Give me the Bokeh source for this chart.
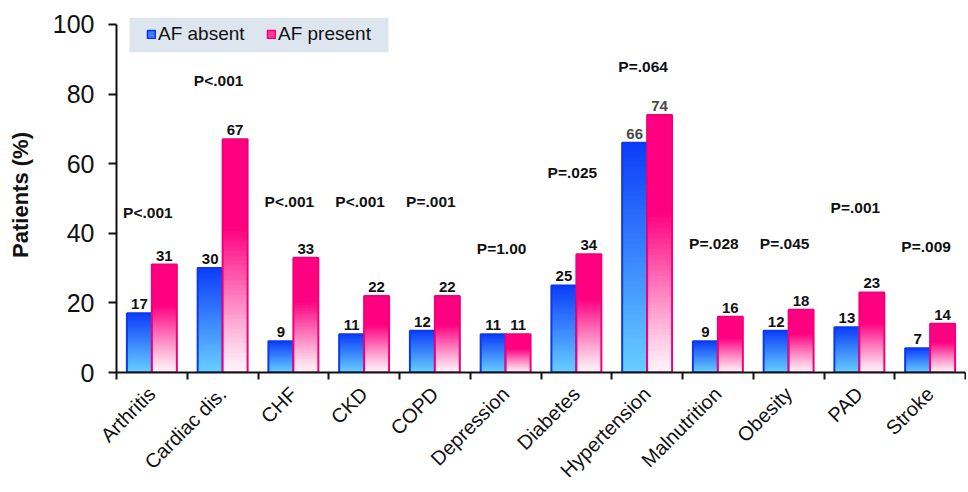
import math
from bokeh.plotting import figure
from bokeh.models import (ColumnDataSource, Range1d, FixedTicker, Legend, LegendItem,
                          CustomJSTickFormatter, BoxAnnotation)
from bokeh.core.properties import value
from bokeh.embed import file_html
from bokeh.resources import INLINE

# ---------------- data ----------------
categories = ["Arthritis", "Cardiac dis.", "CHF", "CKD", "COPD", "Depression",
              "Diabetes", "Hypertension", "Malnutrition", "Obesity", "PAD", "Stroke"]
af_absent = [17, 30, 9, 11, 12, 11, 25, 66, 9, 12, 13, 7]
af_present = [31, 67, 33, 22, 22, 11, 34, 74, 16, 18, 23, 14]
p_values = ["P<.001", "P<.001", "P<.001", "P<.001", "P=.001", "P=1.00",
            "P=.025", "P=.064", "P=.028", "P=.045", "P=.001", "P=.009"]
y_ticks = [0, 20, 40, 60, 80, 100]

# ---------------- layout (annotation heights, in axis units) ----------------
p_label_y = [46, 84, 49, 49, 49, 35.7, 57.4, 88, 37, 37, 47.4, 36.3]

FONT = "Liberation Sans"
BAR_W = 0.353
N_SLICES = 48

W, H = 966, 492
TOP, BOTTOM, LEFT, RIGHT = 17, 118, 116, 1
FRAME_H = H - TOP - BOTTOM
FRAME_W = W - LEFT - RIGHT
Y_MAX = 102
PX_X = FRAME_W / len(categories)   # px per x unit
PX_Y = FRAME_H / Y_MAX             # px per y unit

blue_top, blue_bot = (12, 60, 250), (104, 208, 255)
pink_top, pink_bot = (255, 0, 128), (255, 246, 250)


def mix(c0, c1, s):
    return "#%02x%02x%02x" % tuple(int(round(a + (b - a) * s)) for a, b in zip(c0, c1))


p = figure(width=W, height=H, output_backend="svg", toolbar_location=None,
           x_range=Range1d(0, len(categories)), y_range=Range1d(0, Y_MAX),
           min_border_left=LEFT, min_border_right=RIGHT, min_border_top=TOP,
           min_border_bottom=BOTTOM)
p.xgrid.visible = False
p.ygrid.visible = False
p.outline_line_color = None
p.background_fill_color = "white"


def draw_series(vals, side, c_top, c_bot, pink):
    L, R, B, T, C = [], [], [], [], []
    for i, v in enumerate(vals):
        cx = i + 0.5 + side * BAR_W / 2
        for k in range(N_SLICES):
            s = (k + 0.5) / N_SLICES  # 0 bottom .. 1 top
            if pink:
                f = min(1.0, s / 0.62) ** 1.1
            else:
                f = s
            L.append(cx - BAR_W / 2)
            R.append(cx + BAR_W / 2)
            B.append(v * k / N_SLICES)
            T.append(v)
            C.append(mix(c_bot, c_top, f))
    src = ColumnDataSource(dict(left=L, right=R, bottom=B, top=T, color=C))
    p.quad(left="left", right="right", bottom="bottom", top="top", source=src,
           fill_color="color", line_color=None)
    osrc = ColumnDataSource(dict(
        left=[i + 0.5 + side * BAR_W / 2 - BAR_W / 2 for i in range(len(vals))],
        right=[i + 0.5 + side * BAR_W / 2 + BAR_W / 2 for i in range(len(vals))],
        bottom=[0] * len(vals), top=vals))
    p.quad(left="left", right="right", bottom="bottom", top="top", source=osrc,
           fill_color=None, line_color=mix(c_top, (0, 0, 0), 0.05), line_width=2)


draw_series(af_absent, -1, blue_top, blue_bot, False)
draw_series(af_present, 1, pink_top, pink_bot, True)

# value labels
lab_col = ["#4a4a4a" if c == "Hypertension" else "#111111" for c in categories]
vsrc = ColumnDataSource(dict(
    x=[i + 0.5 - BAR_W / 2 for i in range(len(categories))] +
      [i + 0.5 + BAR_W / 2 for i in range(len(categories))],
    y=af_absent + af_present,
    t=[str(v) for v in af_absent + af_present],
    c=lab_col + lab_col))
p.text(x="x", y="y", text="t", source=vsrc, text_align="center", text_baseline="alphabetic",
       y_offset=-9, text_font=value(FONT), text_font_size="15px", text_font_style="bold",
       text_color="c")

# p-value labels
psrc = ColumnDataSource(dict(x=[i + 0.5 for i in range(len(categories))], y=p_label_y, t=p_values))
p.text(x="x", y="y", text="t", source=psrc, text_align="center", text_baseline="middle",
       x_offset=-4, text_font=value(FONT), text_font_size="15.5px", text_font_style="bold",
       text_color="#111111")

# legend panel background (pixel offsets from the frame's top-left, converted to axis units)
p.add_layout(BoxAnnotation(left=13 / PX_X, right=272 / PX_X,
                           top=Y_MAX, bottom=Y_MAX - 35 / PX_Y,
                           fill_color="#dde5ef", fill_alpha=1.0, line_color=None,
                           level="underlay"))

# legend (swatch renderers placed outside the visible x range)
r_blue = p.quad(left=[-3], right=[-2], bottom=[0], top=[1], fill_color="#3a7cff",
                line_color="#0c30e8", line_width=1.5)
r_pink = p.quad(left=[-3], right=[-2], bottom=[0], top=[1], fill_color="#ff3a96",
                line_color="#f0007a", line_width=1.5)
legend = Legend(items=[LegendItem(label="AF absent", renderers=[r_blue]),
                       LegendItem(label="AF present", renderers=[r_pink])],
                orientation="horizontal", location=(30, FRAME_H - 30),
                background_fill_alpha=0.0,
                border_line_color=None, glyph_width=10, glyph_height=10,
                label_standoff=2, spacing=20, padding=0, label_width=88, label_height=18,
                margin=0,
                label_text_font=FONT, label_text_font_size="19px", label_text_color="#111111")
p.add_layout(legend)

# y axis
yax = p.yaxis[0]
yax.ticker = FixedTicker(ticks=y_ticks)
yax.bounds = (0, 100)
yax.axis_label = "Patients (%)"
yax.axis_label_text_font = FONT
yax.axis_label_text_font_size = "22px"
yax.axis_label_text_font_style = "bold"
yax.axis_label_text_color = "#111111"
yax.axis_label_standoff = 17
yax.major_label_text_font = FONT
yax.major_label_text_font_size = "25px"
yax.major_label_text_color = "#111111"
yax.major_label_standoff = 14
yax.axis_line_width = 2
yax.axis_line_color = "#111111"
yax.major_tick_line_width = 2
yax.major_tick_line_color = "#111111"
yax.major_tick_out = 8
yax.major_tick_in = 0
yax.minor_tick_line_color = None

# x axis
xax = p.xaxis[0]
xax.ticker = FixedTicker(ticks=[i + 0.5 for i in range(len(categories))],
                         minor_ticks=list(range(len(categories) + 1)))
xax.formatter = CustomJSTickFormatter(args=dict(labels=categories),
                                      code="return labels[Math.floor(tick)] || '';")
xax.major_label_orientation = math.pi / 4
xax.major_label_text_font = FONT
xax.major_label_text_font_size = "20px"
xax.major_label_text_color = "#111111"
xax.major_label_standoff = 11
xax.axis_line_width = 2
xax.axis_line_color = "#111111"
xax.major_tick_line_color = None
xax.major_tick_out = 0
xax.major_tick_in = 0
xax.minor_tick_line_width = 2
xax.minor_tick_line_color = "#111111"
xax.minor_tick_out = 7
xax.minor_tick_in = 0

open("out.html", "w").write(file_html(p, INLINE))
